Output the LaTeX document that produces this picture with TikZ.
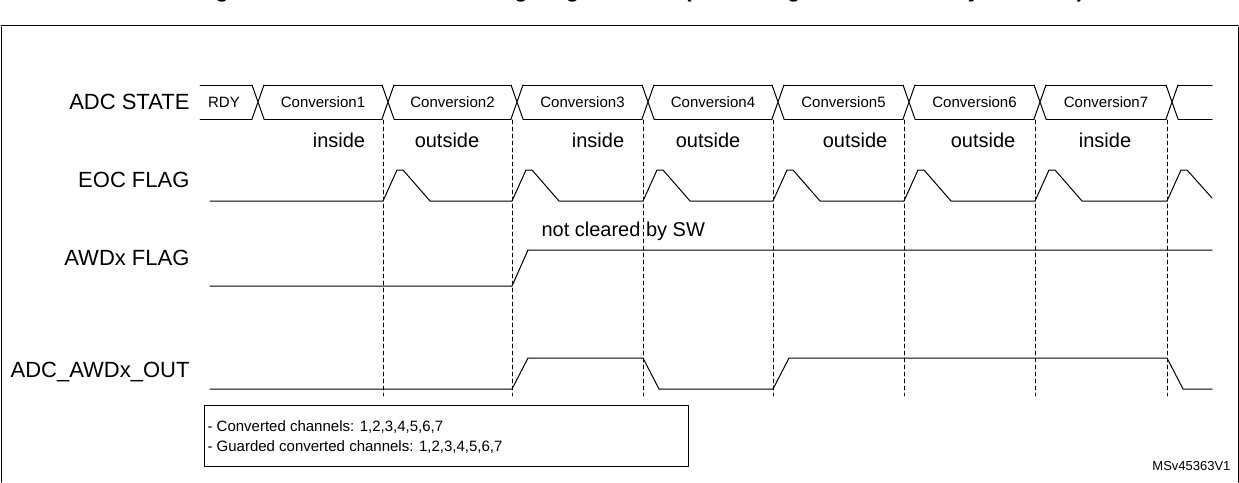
\documentclass[tikz,border=0pt]{standalone}
\usepackage{fontspec}
\setmainfont{Liberation Sans}
\usetikzlibrary{positioning}
\tikzset{
  sig/.style={line width=1pt},
  grid/.style={line width=0.6pt,dash pattern=on 4pt off 3pt},
  lbl/.style={anchor=east,font=\fontsize{22}{24}\selectfont},
  cell/.style={font=\fontsize{15}{17}\selectfont},
  zone/.style={font=\fontsize{20}{22}\selectfont}
}
\begin{document}
\begin{tikzpicture}[x=1pt,y=-1pt,line cap=round,line join=round]
\useasboundingbox (0,0) rectangle (1239,482);
\begin{scope}
\clip (0,0) rectangle (1239,482);
\node[font=\fontsize{22}{24}\bfseries\selectfont] (title) at (640,-8) {Figure 81. ADC\_AWDx\_OUT signal generation (AWDx flag is not cleared by software)};
\end{scope}
% frame
\draw[line width=1pt] (1,25) -- (1238,25);
\draw[line width=1pt] (1,27) -- (1,482) (1238,27) -- (1238,482);

% row labels
\node[lbl] (state) at (193,102) {ADC STATE};
\node[lbl] (eoc) at (193,180) {EOC FLAG};
\node[lbl] (awd) at (193,258) {AWDx FLAG};
\node[lbl] (out) at (193,372) {ADC\_AWDx\_OUT};

% dashed grid
\foreach \x in {383,512,643,773,904,1035,1167}
  \draw[grid] (\x,120) -- (\x,396);

% ADC state bus
\draw[sig] (200,85) -- (252,85) (200,119) -- (252,119);
\node[cell] (rdy) at (224,102) {RDY};
\foreach \a/\b [count=\i] in {258/388,388/517,517/648,648/778,778/909,909/1040,1040/1172}
{
  \draw[sig] (\a-6,85) -- (\a+6,119) (\a-6,119) -- (\a+6,85);
  \draw[sig] (\a+6,85) -- (\b-6,85) (\a+6,119) -- (\b-6,119);
  \node[cell] (conv\i) at ({(\a+\b)/2},102) {Conversion\i};
}
\draw[sig] (1166,85) -- (1178,119) (1166,119) -- (1178,85);
\draw[sig] (1178,85) -- (1212,85) (1178,119) -- (1212,119);

% zones
\foreach \x/\t in {339/inside,447/outside,598/inside,708/outside,855/outside,983/outside,1105/inside}
  \node[zone] at (\x,140) {\t};

% EOC flag
\draw[sig] (210,201) -- (383,201)
  \foreach \x/\n in {383/512,512/643,643/773,773/904,904/1035,1035/1167}
  { -- (\x,201) -- (\x+14,170) -- (\x+20,170) -- (\x+47,201) -- (\n,201) }
  -- (1167,201) -- (1181,170) -- (1187,170) -- (1212,198);

% AWDx flag
\draw[sig] (210,286) -- (512,286) -- (528,250) -- (1212,250);
\node[zone,anchor=west] (sw) at (538,231) {not cleared by SW};

% ADC_AWDx_OUT
\draw[sig] (210,389) -- (512,389) -- (528,358) -- (643,358) -- (659,389)
  -- (773,389) -- (789,358) -- (1167,358) -- (1183,389) -- (1212,389);

% legend box
\draw[line width=0.8pt] (204,405) rectangle (688,466);
\node[cell,anchor=west] (ch1) at (204,427) {- Converted channels: 1,2,3,4,5,6,7};
\node[cell,anchor=west] (ch2) at (204,447) {- Guarded converted channels: 1,2,3,4,5,6,7};
\node[font=\fontsize{13}{15}\selectfont,anchor=east] (ref) at (1234,466) {MSv45363V1};
\end{tikzpicture}
\end{document}
